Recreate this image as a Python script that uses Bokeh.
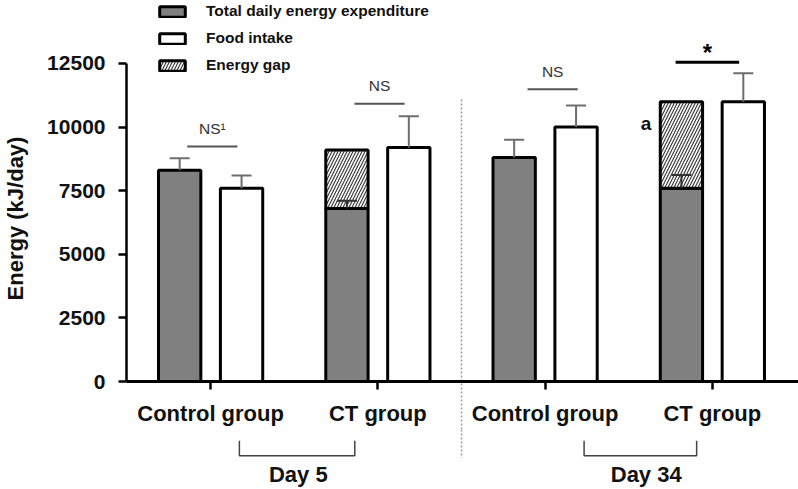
import numpy as np
from bokeh.plotting import figure
from bokeh.models import Range1d, FixedTicker, Legend, LegendItem
from bokeh.layouts import column
from bokeh.embed import file_html
from bokeh.resources import INLINE
from bokeh.core.properties import value

# ---------------- data ----------------
groups = ["Control group", "CT group", "Control group", "CT group"]
days = ["Day 5", "Day 34"]
tdee = [8300, 6800, 8800, 7600]          # total daily energy expenditure
tdee_err = [480, 300, 700, 520]
food = [7600, 9200, 10000, 11000]        # food intake
food_err = [500, 1230, 850, 1120]
gap = [np.nan, 2300, np.nan, 3400]       # energy gap (CT groups only)
sig_text = ["NS\u00b9", "NS", "NS", "*"]
sig_level = [9240, 10920, 11490, 12550]
y_ticks = [0, 2500, 5000, 7500, 10000, 12500]
y_title = "Energy (kJ/day)"
gap_mark = "a"
divider_top = 11150

# ---------------- layout constants ----------------
FONT = "Liberation Sans"
FRAME_H = 381
off, bw, cap = 0.185, 0.253, 0.12
sig_dx = [0.01, 0.01, 0.045, -0.03]
sig_half = [0.15, 0.15, 0.15, 0.19]
br_lo_off = [0.172, 0.233]
br_hi_off = [-0.138, -0.094]
day_dx = [0.007, 0.035]
title_pad = "\u00a0" * 9   # centres the y title on the drawn axis rather than the frame

xg = np.arange(len(groups), dtype=float)
x_tdee = xg - off
x_food = xg + off
tdee_a = np.array(tdee, float)
food_a = np.array(food, float)
gap_a = np.array(gap, float)
has_gap = ~np.isnan(gap_a)

# ---------------- main figure ----------------
p1 = figure(width=798, height=429, x_range=Range1d(-0.503, 3.515), y_range=Range1d(0, 14976),
            output_backend="svg", toolbar_location=None,
            min_border_left=123, min_border_right=0, min_border_top=0, min_border_bottom=48)
p1.outline_line_color = None
p1.grid.visible = False
p1.background_fill_color = "white"

r_tdee = p1.vbar(x=x_tdee, top=tdee_a, bottom=0, width=bw, fill_color="#808080",
                 line_color="black", line_width=3)
r_gap = p1.vbar(x=x_tdee[has_gap], bottom=tdee_a[has_gap], top=(tdee_a + gap_a)[has_gap], width=bw,
                fill_color="white", hatch_pattern="/", hatch_color="#3c3c3c", hatch_scale=6,
                hatch_weight=1.2, line_color="black", line_width=3)
r_food = p1.vbar(x=x_food, top=food_a, bottom=0, width=bw, fill_color="white",
                 line_color="black", line_width=3)

# error bars (upper only)
ex = np.concatenate([x_tdee, x_food])
ey0 = np.concatenate([tdee_a, food_a])
ey1 = ey0 + np.concatenate([np.array(tdee_err, float), np.array(food_err, float)])
ecol = ["#6e6e6e" if not h else "#333333" for h in has_gap] + ["#6e6e6e"] * len(food)
p1.segment(x0=ex, y0=ey0, x1=ex, y1=ey1, line_color=ecol, line_width=2)
p1.segment(x0=ex - cap / 2, y0=ey1, x1=ex + cap / 2, y1=ey1, line_color=ecol, line_width=2)

# significance lines and labels
sl = np.array(sig_level, float)
sx = xg + np.array(sig_dx)
half = np.array(sig_half)
is_star = np.array([t == "*" for t in sig_text])
ns = ~is_star
p1.segment(x0=(sx - half)[ns], y0=sl[ns], x1=(sx + half)[ns], y1=sl[ns],
           line_color="#555555", line_width=2)
p1.segment(x0=(sx - half)[is_star], y0=sl[is_star], x1=(sx + half)[is_star], y1=sl[is_star],
           line_color="black", line_width=3)
p1.text(x=sx[ns], y=sl[ns] + 700, text=[t for t, s in zip(sig_text, is_star) if not s],
        text_align="center", text_baseline="alphabetic", text_font=value(FONT),
        text_font_size="15.5px", text_color="#333333")
p1.text(x=sx[is_star], y=sl[is_star] + 370, text=[t for t, s in zip(sig_text, is_star) if s],
        text_align="center", text_baseline="alphabetic", text_font=value(FONT),
        text_font_size="24px", text_font_style="bold", text_color="black")

# "a" mark next to the largest energy gap
ia = int(np.nanargmax(gap_a))
p1.text(x=[x_tdee[ia] - bw / 2 - 0.085], y=[tdee_a[ia] + gap_a[ia] - 870], text=[gap_mark],
        text_align="center", text_baseline="alphabetic", text_font=value(FONT),
        text_font_size="19px", text_font_style="bold", text_color="#111111")

# dotted divider between days
xdiv = (xg[1] + xg[2]) / 2
p1.segment(x0=[xdiv], y0=[0], x1=[xdiv], y1=[divider_top], line_color="#9a9a9a",
           line_width=1.5, line_dash="2 2")

# legend
legend = Legend(items=[LegendItem(label="Total daily energy expenditure", renderers=[r_tdee]),
                       LegendItem(label="Food intake", renderers=[r_food]),
                       LegendItem(label="Energy gap", renderers=[r_gap])],
                location=(30, FRAME_H - 75))
legend.label_text_font = FONT
legend.label_text_font_style = "bold"
legend.label_text_font_size = "15.5px"
legend.label_text_color = "#111111"
legend.glyph_width = 32
legend.glyph_height = 13
legend.label_standoff = 18
legend.label_height = 20
legend.spacing = 7
legend.padding = 0
legend.margin = 0
legend.border_line_color = None
legend.background_fill_alpha = 0
p1.add_layout(legend)

# axes
xa = p1.xaxis[0]
xa.ticker = FixedTicker(ticks=[int(v) for v in xg], minor_ticks=[float(xdiv)])
xa.major_label_overrides = {int(i): g for i, g in enumerate(groups)}
xa.axis_line_width = 3
xa.axis_line_color = "black"
xa.major_tick_out = 8
xa.major_tick_in = 0
xa.major_tick_line_width = 2.5
xa.minor_tick_out = 48
xa.minor_tick_in = 0
xa.minor_tick_line_color = "#9a9a9a"
xa.minor_tick_line_width = 1.5
xa.minor_tick_line_dash = "2 2"
xa.major_label_standoff = -29
xa.major_label_text_font = FONT
xa.major_label_text_font_style = "bold"
xa.major_label_text_font_size = "22px"
xa.major_label_text_color = "#111111"

ya = p1.yaxis[0]
ya.ticker = FixedTicker(ticks=y_ticks)
ya.bounds = (y_ticks[0], y_ticks[-1])
ya.axis_line_width = 2.5
ya.major_tick_out = 8
ya.major_tick_in = 0
ya.major_tick_line_width = 2.5
ya.minor_tick_line_color = None
ya.major_label_standoff = 13
ya.major_label_text_font = FONT
ya.major_label_text_font_style = "bold"
ya.major_label_text_font_size = "21px"
ya.major_label_text_color = "#111111"
ya.axis_label = y_title + title_pad
ya.axis_label_text_font = FONT
ya.axis_label_text_font_style = "bold"
ya.axis_label_text_font_size = "22px"
ya.axis_label_text_color = "#111111"
ya.axis_label_standoff = 16

# ---------------- day brackets ----------------
p2 = figure(width=798, height=60, x_range=p1.x_range, y_range=Range1d(0, 1),
            output_backend="svg", toolbar_location=None, y_axis_location=None,
            min_border_left=123, min_border_right=0, min_border_top=0, min_border_bottom=0)
p2.outline_line_color = None
p2.grid.visible = False

b_lo = [xg[0] + br_lo_off[0], xg[2] + br_lo_off[1]]
b_hi = [xg[1] + br_hi_off[0], xg[3] + br_hi_off[1]]
p2.multi_line(xs=[[lo, lo, hi, hi] for lo, hi in zip(b_lo, b_hi)],
              ys=[[0.65, 0.18, 0.18, 0.65] for _ in b_lo], line_color="#444444", line_width=1.5)
p2.segment(x0=[xdiv], y0=[1], x1=[xdiv], y1=[0.11], line_color="#9a9a9a", line_width=1.5, line_dash="2 2")

day_pos = [float((lo + hi) / 2 + d) for lo, hi, d in zip(b_lo, b_hi, day_dx)]
xb = p2.xaxis[0]
xb.ticker = FixedTicker(ticks=day_pos)
xb.major_label_overrides = {pos: d for pos, d in zip(day_pos, days)}
xb.axis_line_color = None
xb.major_tick_line_color = None
xb.minor_tick_line_color = None
xb.major_tick_out = 0
xb.major_tick_in = 0
xb.major_label_standoff = 0
xb.major_label_text_font = FONT
xb.major_label_text_font_style = "bold"
xb.major_label_text_font_size = "22px"
xb.major_label_text_color = "#111111"

layout = column(p1, p2, spacing=0)
open("out.html", "w").write(file_html(layout, INLINE))
